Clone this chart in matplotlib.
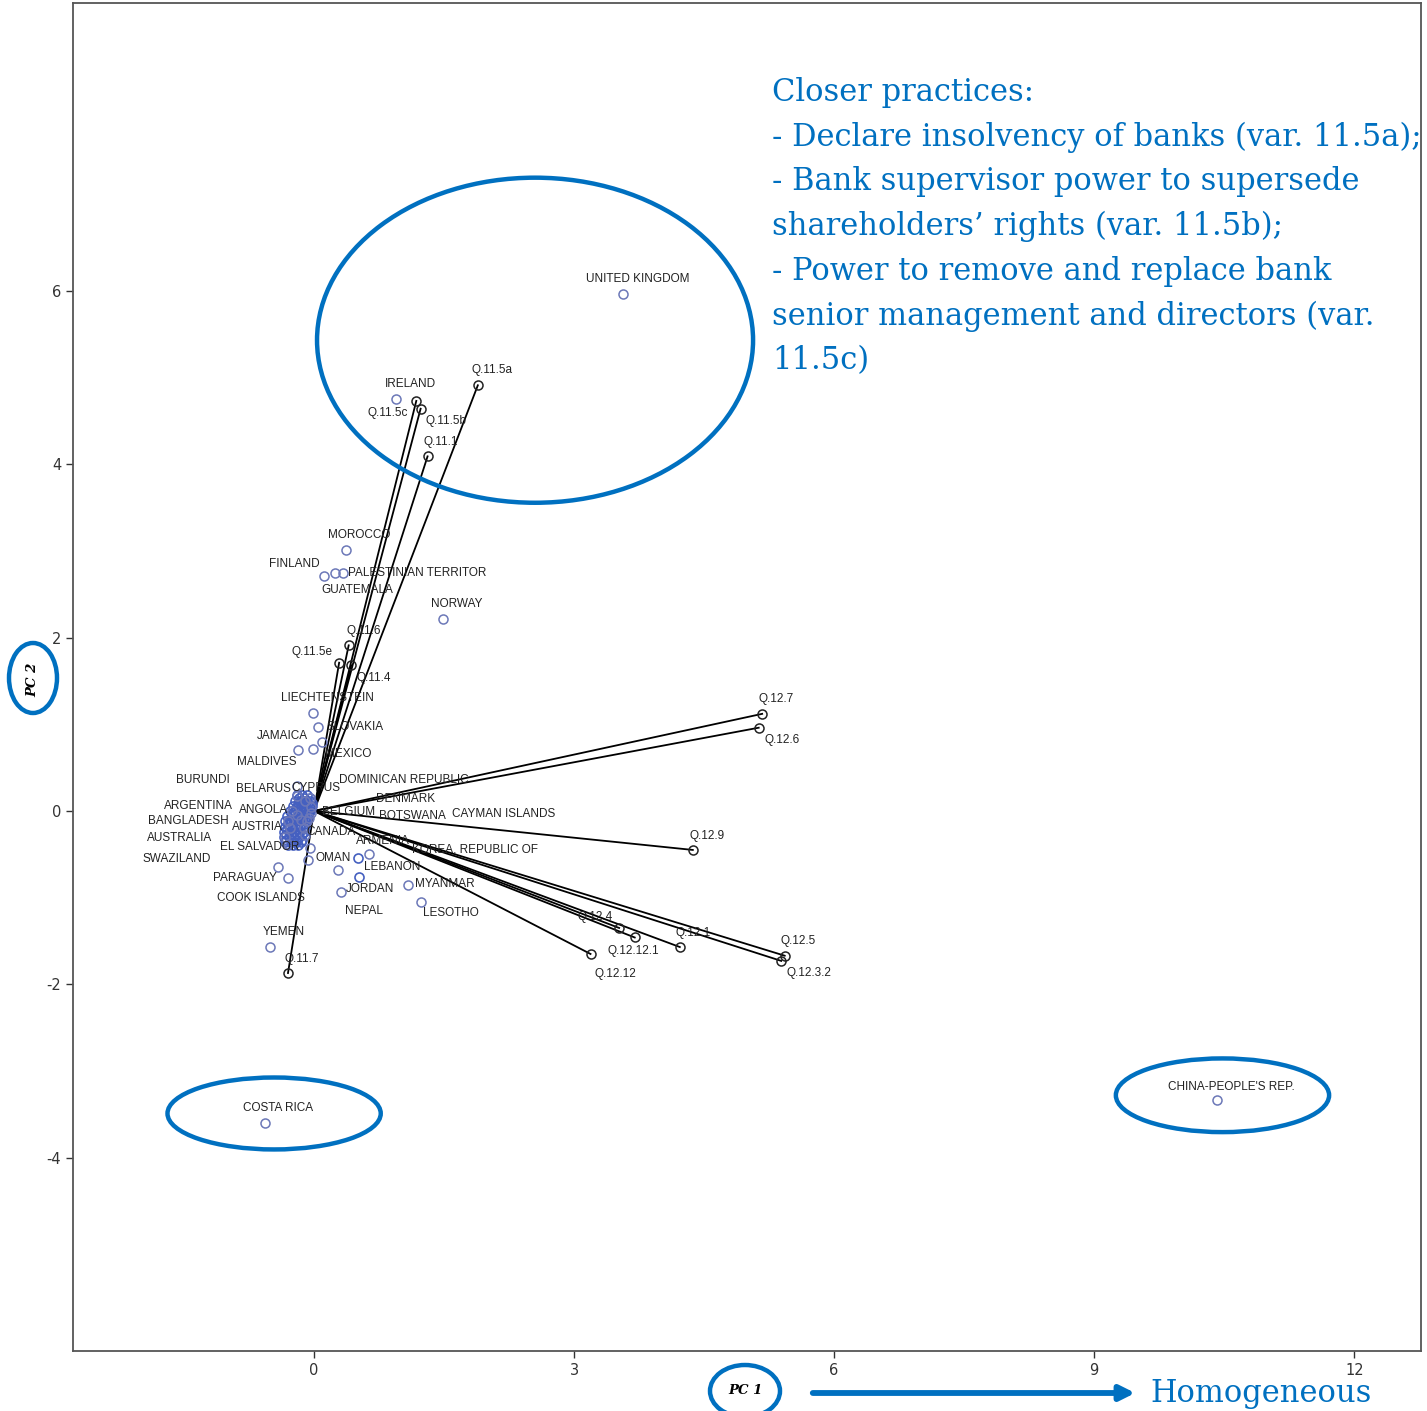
import matplotlib
matplotlib.use("Agg")
import matplotlib.pyplot as plt
from matplotlib.patches import Ellipse, FancyArrowPatch

plt.rcParams["axes.unicode_minus"] = False

# PCA biplot: countries (PC1, PC2 scores) and question loadings
countries = ["UNITED KINGDOM", "IRELAND", "MOROCCO", "FINLAND", "PALESTINIAN TERRITOR",
             "GUATEMALA", "NORWAY", "LIECHTENSTEIN", "SLOVAKIA", "JAMAICA", "MEXICO",
             "MALDIVES", "BURUNDI", "BELARUS", "CYPRUS", "DOMINICAN REPUBLIC", "DENMARK",
             "ARGENTINA", "ANGOLA", "BELGIUM", "BOTSWANA", "CAYMAN ISLANDS", "BANGLADESH",
             "AUSTRIA", "CANADA", "AUSTRALIA", "ARMENIA", "KOREA, REPUBLIC OF", "EL SALVADOR",
             "SWAZILAND", "OMAN", "LEBANON", "PARAGUAY", "COOK ISLANDS", "JORDAN", "MYANMAR",
             "NEPAL", "LESOTHO", "YEMEN", "COSTA RICA", "CHINA-PEOPLE'S REP."]
pc1 = [3.56, 0.95, 0.37, 0.12, 0.33, 0.24, 1.49, -0.01, 0.05, -0.18, 0.09,
       -0.01, -0.20, -0.20, -0.10, -0.05, -0.04, -0.25, -0.20, -0.03, -0.06, -0.08, -0.30,
       -0.28, -0.10, -0.33, -0.12, -0.15, -0.05, -0.42, -0.07, 0.64, -0.30, -0.30, 0.31, 1.08,
       0.28, 1.23, -0.51, -0.57, 10.42]
pc2 = [5.96, 4.75, 3.01, 2.71, 2.74, 2.75, 2.21, 1.13, 0.97, 0.70, 0.80,
       0.72, 0.17, 0.29, 0.12, 0.15, 0.05, 0.00, -0.05, -0.02, -0.08, -0.12, -0.12,
       -0.20, -0.28, -0.30, -0.20, -0.10, -0.43, -0.65, -0.57, -0.50, -0.77, -0.38, -0.93, -0.85,
       -0.68, -1.05, -1.57, -3.60, -3.34]
# where each country name is printed
label_x = [3.73, 1.11, 0.52, -0.23, 1.19, 0.50, 1.65, 0.15, 0.47, -0.36, 0.39,
           -0.55, -1.28, -0.58, 0.02, 1.04, 1.06, -1.33, -0.58, 0.40, 1.13, 2.19, -1.45,
           -0.65, 0.20, -1.55, 0.80, 1.86, -0.63, -1.58, 0.22, 0.90, -0.80, -0.61, 0.65, 1.51,
           0.58, 1.58, -0.35, -0.42, 10.58]
label_y = [6.14, 4.93, 3.18, 2.85, 2.75, 2.55, 2.39, 1.30, 0.97, 0.87, 0.66,
           0.57, 0.36, 0.25, 0.27, 0.36, 0.14, 0.06, 0.01, -0.01, -0.06, -0.03, -0.12,
           -0.18, -0.24, -0.31, -0.35, -0.44, -0.42, -0.55, -0.54, -0.65, -0.77, -1.00, -0.90, -0.84,
           -1.15, -1.18, -1.40, -3.43, -3.18]

# countries whose names are hidden by overlap (dense group near the origin)
other_pc1 = [0.51, 0.52,
             -0.20, -0.14, -0.08, -0.17, -0.11, -0.05,
             -0.22, -0.16, -0.10, -0.05, -0.19, -0.13, -0.07, -0.02,
             -0.24, -0.18, -0.12, -0.06, -0.02, -0.21, -0.15, -0.09, -0.04,
             -0.28, -0.22, -0.16, -0.10, -0.05, -0.25, -0.19, -0.13, -0.07,
             -0.31, -0.25, -0.19, -0.13, -0.07, -0.28, -0.22, -0.16, -0.10,
             -0.33, -0.27, -0.21, -0.15, -0.09, -0.30, -0.24, -0.18, -0.12,
             -0.34, -0.28, -0.22, -0.16, -0.10, -0.31, -0.25, -0.19, -0.13,
             -0.35, -0.29, -0.23, -0.17, -0.11, -0.32, -0.26, -0.20, -0.14,
             -0.35, -0.29, -0.23, -0.17, -0.32, -0.26, -0.20, -0.14,
             -0.33, -0.27, -0.21, -0.15, -0.30, -0.24, -0.18]
other_pc2 = [-0.54, -0.76,
             0.18, 0.18, 0.18, 0.15, 0.15, 0.15,
             0.12, 0.12, 0.12, 0.12, 0.09, 0.09, 0.09, 0.09,
             0.06, 0.06, 0.06, 0.06, 0.06, 0.03, 0.03, 0.03, 0.03,
             0.00, 0.00, 0.00, 0.00, 0.00, -0.03, -0.03, -0.03, -0.03,
             -0.06, -0.06, -0.06, -0.06, -0.06, -0.09, -0.09, -0.09, -0.09,
             -0.12, -0.12, -0.12, -0.12, -0.12, -0.15, -0.15, -0.15, -0.15,
             -0.18, -0.18, -0.18, -0.18, -0.18, -0.21, -0.21, -0.21, -0.21,
             -0.24, -0.24, -0.24, -0.24, -0.24, -0.27, -0.27, -0.27, -0.27,
             -0.30, -0.30, -0.30, -0.30, -0.33, -0.33, -0.33, -0.33,
             -0.36, -0.36, -0.36, -0.36, -0.39, -0.39, -0.39]

questions = ["Q.11.5a", "Q.11.5c", "Q.11.5b", "Q.11.1", "Q.11.6", "Q.11.5e", "Q.11.4",
             "Q.11.7", "Q.12.7", "Q.12.6", "Q.12.9", "Q.12.4", "Q.12.12.1", "Q.12.12",
             "Q.12.1", "Q.12.5", "Q.12.3.2"]
load1 = [1.89, 1.18, 1.23, 1.31, 0.40, 0.29, 0.43, -0.30, 5.17, 5.13, 4.37, 3.52,
         3.70, 3.19, 4.22, 5.43, 5.39]
load2 = [4.91, 4.73, 4.64, 4.09, 1.91, 1.71, 1.68, -1.87, 1.12, 0.96, -0.45, -1.35,
         -1.46, -1.65, -1.57, -1.67, -1.73]
qlabel_x = [2.05, 0.85, 1.52, 1.46, 0.57, -0.02, 0.69, -0.14, 5.33, 5.40, 4.53, 3.24,
            3.68, 3.48, 4.37, 5.58, 5.71]
qlabel_y = [5.09, 4.59, 4.50, 4.26, 2.08, 1.83, 1.53, -1.71, 1.29, 0.82, -0.29, -1.22,
            -1.61, -1.88, -1.41, -1.50, -1.87]

note_lines = ["Closer practices:",
              "- Declare insolvency of banks (var. 11.5a);",
              "- Bank supervisor power to supersede",
              "shareholders\u2019 rights (var. 11.5b);",
              "- Power to remove and replace bank",
              "senior management and directors (var.",
              "11.5c)"]

blue = "#0070C0"
W, H = 1427, 1411
fig = plt.figure(figsize=(W / 100, H / 100), dpi=100)
ax = fig.add_axes([73 / W, 1 - 1351 / H, (1421 - 73) / W, (1351 - 3) / H])

# loading vectors
for i in range(len(questions)):
    ax.plot([0, load1[i]], [0, load2[i]], color="black", lw=1.3, zorder=2)
    ax.plot(load1[i], load2[i], "o", ms=6.5, mfc="none", mec="#222222", mew=1.1, zorder=3)
    ax.text(qlabel_x[i], qlabel_y[i], questions[i], fontsize=8.5, family="Liberation Sans",
            color="#222222", ha="center", va="center", zorder=4)

# country scores
ax.plot(other_pc1, other_pc2, "o", ms=6.5, mfc="none", mec="#4560c0", mew=1.2, zorder=3)
ax.plot(pc1, pc2, "o", ms=6.5, mfc="none", mec="#6c78b8", mew=1.1, zorder=3)
for i in range(len(countries)):
    ax.text(label_x[i], label_y[i], countries[i], fontsize=8.5, family="Liberation Sans",
            color="#222222", ha="center", va="center", zorder=4)

ax.set_xlim(-2.78, 12.77)
ax.set_ylim(-6.23, 9.32)
ax.set_xticks([0, 3, 6, 9, 12])
ax.set_yticks([-4, -2, 0, 2, 4, 6])
ax.tick_params(direction="out", length=5, width=1, labelsize=10.5, colors="#333333")
for lab in ax.get_xticklabels() + ax.get_yticklabels():
    lab.set_family("Liberation Sans Narrow")
for s in ax.spines.values():
    s.set_color("#555555")
    s.set_linewidth(1.3)

# highlighted groups
ax.add_patch(Ellipse((2.55, 5.43), 5.03, 3.75, fill=False, ec=blue, lw=3.2, zorder=5))
ax.add_patch(Ellipse((-0.46, -3.49), 2.46, 0.83, fill=False, ec=blue, lw=3.2, zorder=5))
ax.add_patch(Ellipse((10.48, -3.28), 2.46, 0.85, fill=False, ec=blue, lw=3.2, zorder=5))

# axis titles in circles
fig.add_artist(Ellipse((33 / W, 1 - 678 / H), 48 / W, 70 / H, transform=fig.transFigure,
                       fill=False, ec=blue, lw=3.2))
fig.text(33 / W, 1 - 680 / H, "PC 2", rotation=90, ha="center", va="center",
         fontsize=9.5, family="DejaVu Serif", style="italic", weight="bold")
fig.add_artist(Ellipse((745 / W, 1 - 1391 / H), 70 / W, 52 / H, transform=fig.transFigure,
                       fill=False, ec=blue, lw=3.2))
fig.text(745 / W, 1 - 1391 / H, "PC 1", ha="center", va="center",
         fontsize=9.5, family="DejaVu Serif", style="italic", weight="bold")

fig.add_artist(FancyArrowPatch((810 / W, 1 - 1393 / H), (1138 / W, 1 - 1393 / H),
                               transform=fig.transFigure, arrowstyle="-|>",
                               mutation_scale=22, color=blue, lw=4.2))
fig.text(1150 / W, 1 - 1402 / H, "Homogeneous", color=blue, fontsize=22,
         family="DejaVu Serif", va="baseline", ha="left")

for i, line in enumerate(note_lines):
    fig.text(772 / W, 1 - (101 + 44.7 * i) / H, line, color=blue, fontsize=22,
             family="DejaVu Serif", va="baseline", ha="left")

fig.savefig("out.png", dpi=100)
